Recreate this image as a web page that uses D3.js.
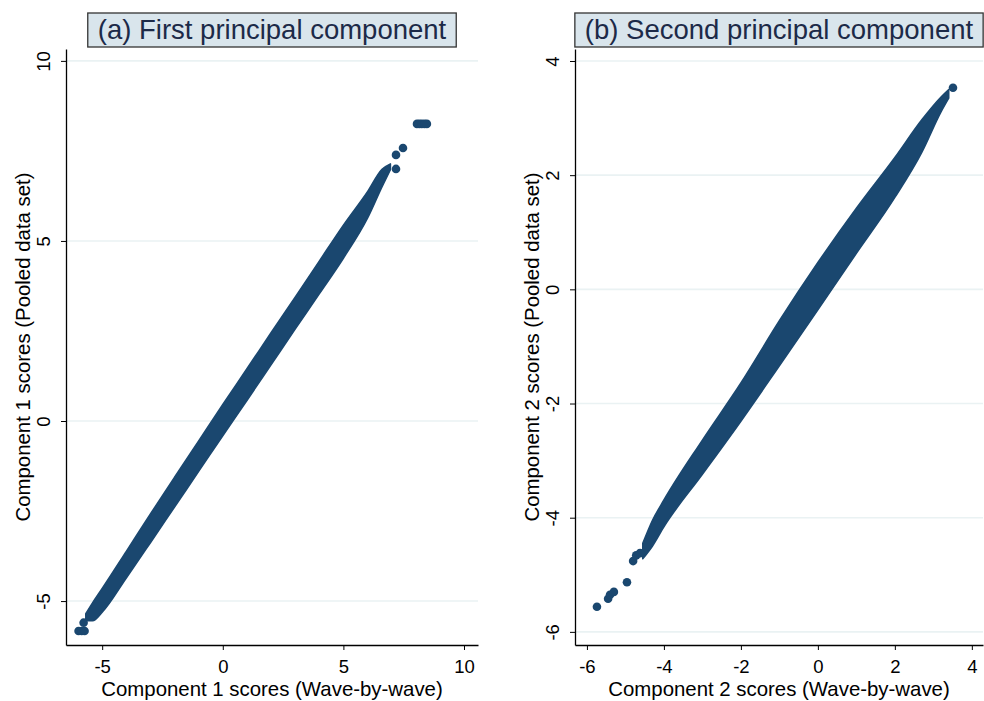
<!DOCTYPE html>
<html>
<head>
<meta charset="utf-8">
<script src="https://cdn.jsdelivr.net/npm/d3@7"></script>
<style>
  body { margin: 0; background: #fff; }
  svg { display: block; font-family: "Liberation Sans", Arial, sans-serif; }
</style>
</head>
<body>
<svg id="chart" width="984" height="701"></svg>
<script>
// ---- data ----
// panel (a): envelope of the dense cloud, plus isolated markers
const a_bandX  = [-5.68, -5.4, -5.0, -4.0, -3.0, -2.0, -1.0, 0.0, 1.0, 2.0, 3.0, 4.0, 5.0, 6.0, 6.6, 6.95];
const a_bandLo = [-5.55, -5.55, -5.31, -4.36, -3.38, -2.39, -1.40, -0.41, 0.57, 1.56, 2.55, 3.53, 4.52, 5.63, 6.50, 6.98];
const a_bandHi = [-5.35, -5.05, -4.65, -3.62, -2.58, -1.56, -0.55, 0.46, 1.45, 2.45, 3.44, 4.44, 5.44, 6.37, 6.99, 7.14];
const a_ptsX = [-5.98, -5.85, -5.73, -5.77, 7.18, 7.18, 7.47, 8.05, 8.15, 8.25, 8.36, 8.46];
const a_ptsY = [-5.83, -5.83, -5.83, -5.60, 7.00, 7.39, 7.58, 8.25, 8.25, 8.25, 8.25, 8.25];
const a_xTicks = [-5, 0, 5, 10];
const a_yTicks = [-5, 0, 5, 10];

// panel (b)
const b_bandX  = [-4.55, -4.3, -4.0, -3.0, -2.0, -1.0, 0.0, 1.0, 2.0, 2.7, 3.2, 3.4];
const b_bandLo = [-4.72, -4.5, -4.16, -3.24, -2.31, -1.34, -0.36, 0.63, 1.61, 2.40, 3.11, 3.35];
const b_bandHi = [-4.45, -4.05, -3.69, -2.64, -1.64, -0.55, 0.47, 1.42, 2.31, 2.97, 3.37, 3.50];
const b_ptsX = [-5.74, -5.45, -5.40, -5.30, -4.96, -4.80, -4.72, -4.62, 3.51];
const b_ptsY = [-5.56, -5.42, -5.35, -5.30, -5.13, -4.76, -4.66, -4.62, 3.53];
const b_xTicks = [-6, -4, -2, 0, 2, 4];
const b_yTicks = [-6, -4, -2, 0, 2, 4];

const panels = [
  {title: "(a) First principal component",
   xlab: "Component 1 scores (Wave-by-wave)", ylab: "Component 1 scores (Pooled data set)",
   bandX: a_bandX, bandLo: a_bandLo, bandHi: a_bandHi, ptsX: a_ptsX, ptsY: a_ptsY,
   xTicks: a_xTicks, yTicks: a_yTicks,
   xdom: [-6.5, 10.58], ydom: [-6.22, 10.33], left: 66, right: 478},
  {title: "(b) Second principal component",
   xlab: "Component 2 scores (Wave-by-wave)", ylab: "Component 2 scores (Pooled data set)",
   bandX: b_bandX, bandLo: b_bandLo, bandHi: b_bandHi, ptsX: b_ptsX, ptsY: b_ptsY,
   xTicks: b_xTicks, yTicks: b_yTicks,
   xdom: [-6.31, 4.29], ydom: [-6.23, 4.21], left: 575, right: 983}
];

const plotTop = 49, plotBottom = 645;
const marker = "#1a476f";
const svg = d3.select("#chart");

panels.forEach(function(p){
    const x = d3.scaleLinear().domain(p.xdom).range([p.left, p.right]);
    const y = d3.scaleLinear().domain(p.ydom).range([plotBottom, plotTop]);
    const g = svg.append("g");

    // grid lines
    g.selectAll(".grid")
      .data(p.yTicks)
      .enter()
      .append("line")
      .attr("x1", p.left).attr("x2", p.right)
      .attr("y1", d => y(d)).attr("y2", d => y(d))
      .attr("stroke", "#eaf2f3")
      .attr("stroke-width", 1.6);

    // dense cloud
    const area = d3.area()
      .x((d, i) => x(p.bandX[i]))
      .y0((d, i) => y(p.bandLo[i]))
      .y1((d, i) => y(p.bandHi[i]))
      .curve(d3.curveMonotoneX);
    g.append("path")
      .datum(p.bandX)
      .attr("d", area)
      .attr("fill", marker)
      .attr("stroke", marker)
      .attr("stroke-width", 1.5)
      .attr("stroke-linejoin", "round");

    // isolated markers
    g.selectAll(".pt")
      .data(p.ptsX)
      .enter()
      .append("circle")
      .attr("cx", d => x(d))
      .attr("cy", (d, i) => y(p.ptsY[i]))
      .attr("r", 4.3)
      .attr("fill", marker);

    // axes
    const xa = g.append("g")
      .attr("transform", "translate(0," + plotBottom + ")")
      .call(d3.axisBottom(x).tickValues(p.xTicks).tickFormat(d => String(d))
        .tickSize(5).tickPadding(10).tickSizeOuter(0));
    xa.select(".domain").attr("stroke", "#000").attr("stroke-width", 1.3);
    xa.selectAll("text").style("font-size", "18.5px").attr("fill", "#000");

    const ya = g.append("g")
      .attr("transform", "translate(" + p.left + ",0)")
      .call(d3.axisLeft(y).tickValues(p.yTicks).tickFormat(d => String(d))
        .tickSize(5).tickSizeOuter(0));
    ya.select(".domain").attr("stroke", "#000").attr("stroke-width", 1.3);
    ya.selectAll("text")
      .attr("x", 0).attr("y", -16).attr("dy", 0)
      .attr("transform", "rotate(-90)")
      .attr("text-anchor", "middle")
      .style("font-size", "18.5px")
      .attr("fill", "#000");

    // axis titles
    g.append("text")
      .attr("x", (p.left + p.right) / 2)
      .attr("y", 696)
      .attr("text-anchor", "middle")
      .style("font-size", "20.4px")
      .text(p.xlab);
    g.append("text")
      .attr("transform", "translate(" + (p.left - 36) + "," + (plotTop + plotBottom) / 2 + ") rotate(-90)")
      .attr("text-anchor", "middle")
      .style("font-size", "20.4px")
      .text(p.ylab);

    // title box
    const cx = (p.left + p.right) / 2;
    const tg = g.append("g");
    const box = tg.append("rect");
    const tt = tg.append("text")
      .attr("x", cx)
      .attr("y", 39)
      .attr("text-anchor", "middle")
      .style("font-size", "27.5px")
      .attr("fill", "#1c2a48")
      .text(p.title);
    const w = tt.node().getComputedTextLength() + 20;
    box.attr("x", cx - w / 2)
      .attr("y", 13)
      .attr("width", w)
      .attr("height", 34)
      .attr("fill", "#d9e5ec")
      .attr("stroke", "#333")
      .attr("stroke-width", 1.3);
});
</script>
</body>
</html>
